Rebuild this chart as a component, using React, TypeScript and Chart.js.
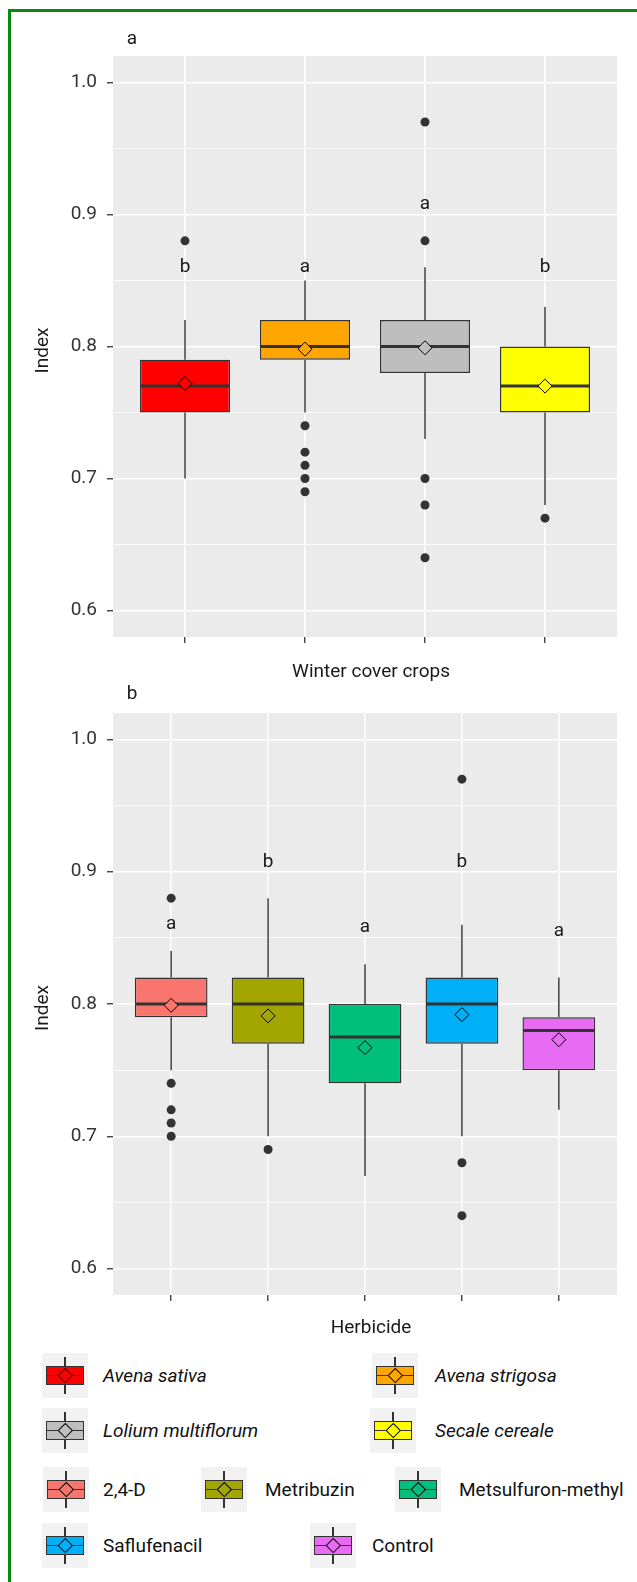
import React, { useEffect, useRef } from 'react';
import { Chart, registerables } from 'chart.js';

Chart.register(...registerables);

const FONT_FAMILY = 'Roboto, "Noto Sans", "DejaVu Sans", sans-serif';
Chart.defaults.font.family = FONT_FAMILY;

// ---------------- data: winter cover crops ----------------
const cropNames = ['Avena sativa', 'Avena strigosa', 'Lolium multiflorum', 'Secale cereale'];
const cropColors = ['#FF0000', '#FFA500', '#BEBEBE', '#FFFF00'];
const cropQ1 = [0.75, 0.79, 0.78, 0.75];
const cropMedian = [0.77, 0.80, 0.80, 0.77];
const cropQ3 = [0.79, 0.82, 0.82, 0.80];
const cropWhiskerLow = [0.70, 0.75, 0.73, 0.68];
const cropWhiskerHigh = [0.82, 0.85, 0.86, 0.83];
const cropMean = [0.772, 0.798, 0.799, 0.770];
const cropOutliers = [[0.88], [0.74, 0.72, 0.71, 0.70, 0.69], [0.97, 0.88, 0.70, 0.68, 0.64], [0.67]];
const cropLetters = ['b', 'a', 'a', 'b'];
const cropLetterY = [0.86, 0.86, 0.908, 0.86];

// ---------------- data: herbicides ----------------
const herbNames = ['2,4-D', 'Metribuzin', 'Metsulfuron-methyl', 'Saflufenacil', 'Control'];
const herbColors = ['#F8766D', '#A3A500', '#00BF7D', '#00B0F6', '#E76BF3'];
const herbQ1 = [0.79, 0.77, 0.74, 0.77, 0.75];
const herbMedian = [0.80, 0.80, 0.775, 0.80, 0.78];
const herbQ3 = [0.82, 0.82, 0.80, 0.82, 0.79];
const herbWhiskerLow = [0.75, 0.70, 0.67, 0.70, 0.72];
const herbWhiskerHigh = [0.84, 0.88, 0.83, 0.86, 0.82];
const herbMean = [0.799, 0.791, 0.767, 0.792, 0.773];
const herbOutliers = [[0.88, 0.74, 0.72, 0.71, 0.70], [0.69], [], [0.97, 0.68, 0.64], []];
const herbLetters = ['a', 'b', 'a', 'b', 'a'];
const herbLetterY = [0.86, 0.907, 0.858, 0.907, 0.855];

// ---------------- axis ----------------
const yTickMajor = [0.6, 0.7, 0.8, 0.9, 1.0];
const yTickMinor = [0.65, 0.75, 0.85, 0.95];
const yLimits = [0.6, 1.0];
const yTitle = 'Index';
const yExpand = 0.05;
const xExpand = 0.6;

const INK = '#333333';
const TEXT = '#1a1a1a';

type Panel = {
  names: string[];
  colors: string[];
  q1: number[];
  median: number[];
  q3: number[];
  wLow: number[];
  wHigh: number[];
  mean: number[];
  outliers: number[][];
  letters: string[];
  letterY: number[];
  xTitle: string;
  tag: string;
};

type Geom = {
  top: number;
  height: number;
  plotTop: number;
  plotBottom: number;
  plotLeft: number;
  plotRight: number;
  xTitleBaseline: number;
  tagX: number;
  tagBaseline: number;
};

const cropPanel: Panel = {
  names: cropNames, colors: cropColors, q1: cropQ1, median: cropMedian, q3: cropQ3,
  wLow: cropWhiskerLow, wHigh: cropWhiskerHigh, mean: cropMean, outliers: cropOutliers,
  letters: cropLetters, letterY: cropLetterY, xTitle: 'Winter cover crops', tag: 'a',
};

const herbPanel: Panel = {
  names: herbNames, colors: herbColors, q1: herbQ1, median: herbMedian, q3: herbQ3,
  wLow: herbWhiskerLow, wHigh: herbWhiskerHigh, mean: herbMean, outliers: herbOutliers,
  letters: herbLetters, letterY: herbLetterY, xTitle: 'Herbicide', tag: 'b',
};

const W = 637;

const cropGeom: Geom = {
  top: 0, height: 686, plotTop: 56, plotBottom: 637, plotLeft: 113, plotRight: 617,
  xTitleBaseline: 676.7, tagX: 132, tagBaseline: 44.3,
};
const herbGeom: Geom = {
  top: 676, height: 664, plotTop: 37, plotBottom: 619, plotLeft: 113, plotRight: 617,
  xTitleBaseline: 657.3, tagX: 132, tagBaseline: 23.3,
};

const isMajor = (v: number | undefined) =>
  v !== undefined && yTickMajor.some((t) => Math.abs(t - v) < 1e-6);

function makeConfig(p: Panel, g: Geom): any {
  const n = p.names.length;
  const yRange = yLimits[1] - yLimits[0];
  const yMin = yLimits[0] - yExpand * yRange;
  const yMax = yLimits[1] + yExpand * yRange;

  const boxData = p.names.map((_, i) => ({ x: i + 1, y: [p.q1[i], p.q3[i]] }));
  const outlierData: { x: number; y: number }[] = [];
  p.outliers.forEach((list, i) => list.forEach((v) => outlierData.push({ x: i + 1, y: v })));
  const meanData = p.mean.map((m, i) => ({ x: i + 1, y: m }));

  const extras = {
    id: 'boxExtras',
    beforeDraw(chart: any) {
      const { ctx, chartArea: a } = chart;
      ctx.save();
      ctx.fillStyle = '#EBEBEB';
      ctx.fillRect(a.left, a.top, a.right - a.left, a.bottom - a.top);
      ctx.restore();
    },
    afterDatasetDraw(chart: any, args: any) {
      if (args.index !== 0) return;
      const { ctx } = chart;
      const xs = chart.scales.x;
      const ys = chart.scales.y;
      const meta = chart.getDatasetMeta(0);
      ctx.save();
      ctx.strokeStyle = INK;
      ctx.lineCap = 'butt';
      p.names.forEach((_, i) => {
        const x = xs.getPixelForValue(i + 1);
        ctx.lineWidth = 1.4;
        ctx.beginPath();
        ctx.moveTo(x, ys.getPixelForValue(p.q3[i]));
        ctx.lineTo(x, ys.getPixelForValue(p.wHigh[i]));
        ctx.moveTo(x, ys.getPixelForValue(p.q1[i]));
        ctx.lineTo(x, ys.getPixelForValue(p.wLow[i]));
        ctx.stroke();
        const bar = meta.data[i];
        const half = bar.width / 2;
        const ym = ys.getPixelForValue(p.median[i]);
        ctx.lineWidth = 3;
        ctx.beginPath();
        ctx.moveTo(x - half + 0.7, ym);
        ctx.lineTo(x + half - 0.7, ym);
        ctx.stroke();
      });
      ctx.restore();
    },
    afterDraw(chart: any) {
      const { ctx, chartArea: a } = chart;
      const xs = chart.scales.x;
      const ys = chart.scales.y;
      ctx.save();
      ctx.fillStyle = TEXT;
      ctx.font = `19px ${FONT_FAMILY}`;
      ctx.textAlign = 'center';
      ctx.textBaseline = 'middle';
      p.letters.forEach((l, i) => {
        ctx.fillText(l, xs.getPixelForValue(i + 1), ys.getPixelForValue(p.letterY[i]));
      });
      ctx.textBaseline = 'alphabetic';
      // panel tag
      ctx.fillText(p.tag, g.tagX, g.tagBaseline);
      // x-axis title
      ctx.fillText(p.xTitle, (a.left + a.right) / 2 + 6, g.xTitleBaseline);
      // y-axis title
      ctx.translate(48, (a.top + a.bottom) / 2 + 4);
      ctx.rotate(-Math.PI / 2);
      ctx.fillText(yTitle, 0, 0);
      ctx.restore();
    },
  };

  const zeroPad = (s: any) => {
    s.paddingTop = 0;
    s.paddingBottom = 0;
    s.paddingLeft = 0;
    s.paddingRight = 0;
  };

  return {
    type: 'bar',
    data: {
      datasets: [
        {
          type: 'bar',
          data: boxData,
          backgroundColor: p.colors,
          borderColor: INK,
          borderWidth: 1.4,
          borderSkipped: false,
          barPercentage: 0.75,
          categoryPercentage: 1,
          order: 3,
        },
        {
          type: 'scatter',
          data: outlierData,
          pointRadius: 4.5,
          pointBackgroundColor: INK,
          pointBorderWidth: 0,
          order: 2,
        },
        {
          type: 'scatter',
          data: meanData,
          pointStyle: 'rectRot',
          pointRadius: 7,
          pointBackgroundColor: p.colors,
          pointBorderColor: '#000000',
          pointBorderWidth: 1,
          order: 1,
        },
      ],
    },
    options: {
      responsive: false,
      animation: false,
      events: [],
      layout: {
        padding: { top: g.plotTop, left: 0, right: W - g.plotRight, bottom: 0 },
      },
      plugins: {
        legend: { display: false },
        tooltip: { enabled: false },
      },
      scales: {
        x: {
          type: 'linear',
          offset: false,
          min: 1 - xExpand,
          max: n + xExpand,
          afterBuildTicks: (s: any) => {
            s.ticks = p.names.map((_, i) => ({ value: i + 1 }));
          },
          afterFit: (s: any) => {
            s.height = g.height - g.plotBottom;
            zeroPad(s);
          },
          ticks: { callback: () => '', autoSkip: false, maxRotation: 0, padding: 0 },
          grid: {
            offset: false,
            color: '#FFFFFF',
            lineWidth: 1.5,
            tickColor: INK,
            tickLength: 6,
            tickWidth: 1.3,
          },
          border: { display: false },
          title: { display: false },
        },
        y: {
          type: 'linear',
          beginAtZero: false,
          min: yMin,
          max: yMax,
          afterBuildTicks: (s: any) => {
            s.ticks = [...yTickMajor, ...yTickMinor].sort((a, b) => a - b).map((v) => ({ value: v }));
          },
          afterFit: (s: any) => {
            s.width = g.plotLeft;
            zeroPad(s);
          },
          ticks: {
            autoSkip: false,
            padding: 10,
            color: '#333333',
            font: { size: 19, family: FONT_FAMILY },
            callback: (v: number) => (isMajor(v) ? Number(v).toFixed(1) : ''),
          },
          grid: {
            color: '#FFFFFF',
            lineWidth: (c: any) => (isMajor(c.tick?.value) ? 1.5 : 0.75),
            tickColor: (c: any) => (isMajor(c.tick?.value) ? INK : 'rgba(0,0,0,0)'),
            tickLength: 6,
            tickWidth: 1.3,
          },
          border: { display: false },
          title: { display: false },
        },
      },
    },
    plugins: [extras],
  };
}

function BoxChart({ panel, geom }: { panel: Panel; geom: Geom }) {
  const ref = useRef<HTMLCanvasElement>(null);
  useEffect(() => {
    const chart = new Chart(ref.current as HTMLCanvasElement, makeConfig(panel, geom));
    return () => chart.destroy();
  }, [panel, geom]);
  return (
    <canvas
      ref={ref}
      width={W}
      height={geom.height}
      style={{ position: 'absolute', left: 0, top: geom.top, width: W, height: geom.height, display: 'block' }}
    />
  );
}

// ---------------- legend ----------------
const cropLegendPos = [
  { kx: 42, ky: 1353, tx: 103 },
  { kx: 372, ky: 1353, tx: 435 },
  { kx: 42, ky: 1408, tx: 103 },
  { kx: 370, ky: 1408, tx: 435 },
];
const herbLegendPos = [
  { kx: 43, ky: 1467, tx: 103 },
  { kx: 201, ky: 1467, tx: 265 },
  { kx: 395, ky: 1467, tx: 459 },
  { kx: 42, ky: 1523, tx: 103 },
  { kx: 310, ky: 1523, tx: 372 },
];

function LegendKey({ color, x, y }: { color: string; x: number; y: number }) {
  return (
    <div style={{ position: 'absolute', left: x, top: y, width: 46, height: 45, background: '#F2F2F2' }}>
      <div style={{ position: 'absolute', left: 22.3, top: 4, width: 1.4, height: 37, background: INK }} />
      <div
        style={{
          position: 'absolute', left: 4, top: 13, width: 38, height: 19, background: color,
          border: `1.4px solid ${INK}`, boxSizing: 'border-box',
        }}
      />
      <div style={{ position: 'absolute', left: 4, top: 21.6, width: 38, height: 1.8, background: INK }} />
      <div
        style={{
          position: 'absolute', left: 23 - 5.3, top: 22.5 - 5.3, width: 10.6, height: 10.6, background: color,
          border: '1px solid #000', boxSizing: 'border-box', transform: 'rotate(45deg)',
        }}
      />
    </div>
  );
}

function LegendItem({ name, color, pos, italic }: { name: string; color: string; pos: any; italic: boolean }) {
  return (
    <>
      <LegendKey color={color} x={pos.kx} y={pos.ky} />
      <div
        style={{
          position: 'absolute', left: pos.tx, top: pos.ky, height: 45, display: 'flex', alignItems: 'center',
          fontSize: 19, lineHeight: '1', fontStyle: italic ? 'italic' : 'normal', color: '#111', whiteSpace: 'nowrap',
        }}
      >
        {name}
      </div>
    </>
  );
}

export default function App() {
  useEffect(() => {
    document.body.style.margin = '0';
  }, []);
  return (
    <div style={{ position: 'relative', width: W, height: 1582, background: '#FFFFFF', fontFamily: FONT_FAMILY, overflow: 'hidden' }}>
      <div style={{ position: 'absolute', left: 8, top: 9, width: 3, height: 1582 - 9, background: '#0B870B' }} />
      <div style={{ position: 'absolute', left: 8, top: 9, width: W - 8, height: 3, background: '#0B870B' }} />
      <BoxChart panel={cropPanel} geom={cropGeom} />
      <BoxChart panel={herbPanel} geom={herbGeom} />
      {cropNames.map((nm, i) => (
        <LegendItem key={nm} name={nm} color={cropColors[i]} pos={cropLegendPos[i]} italic />
      ))}
      {herbNames.map((nm, i) => (
        <LegendItem key={nm} name={nm} color={herbColors[i]} pos={herbLegendPos[i]} italic={false} />
      ))}
    </div>
  );
}
